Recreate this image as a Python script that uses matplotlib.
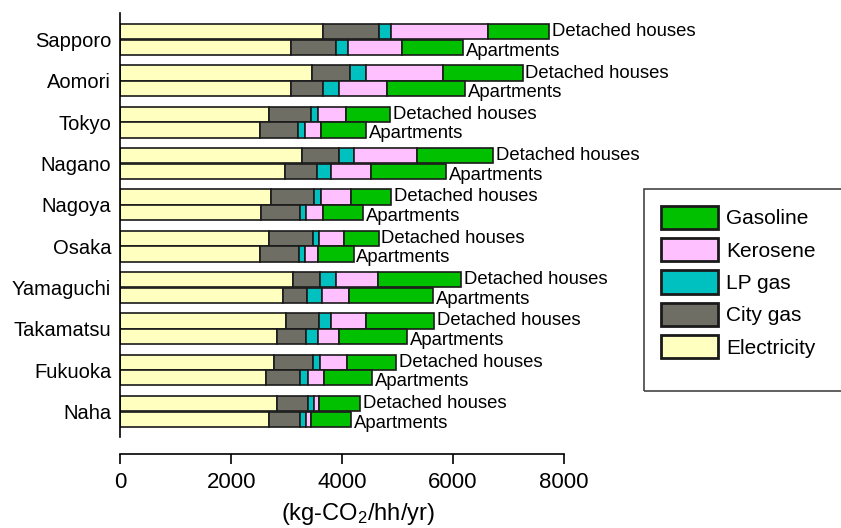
import numpy as np
import matplotlib
matplotlib.use('Agg')
import matplotlib.pyplot as plt
from matplotlib.patches import Rectangle

plt.rcParams['font.family'] = ['Liberation Sans', 'DejaVu Sans']
plt.rcParams['mathtext.fontset'] = 'custom'
plt.rcParams['mathtext.rm'] = 'Liberation Sans'
plt.rcParams['mathtext.default'] = 'regular'

# Data (kg-CO2/hh/yr) --------------------------------------------------
cities = ['Sapporo', 'Aomori', 'Tokyo', 'Nagano', 'Nagoya', 'Osaka',
          'Yamaguchi', 'Takamatsu', 'Fukuoka', 'Naha']

fuels = ['Electricity', 'City gas', 'LP gas', 'Kerosene', 'Gasoline']
colors = ['#ffffc0', '#6e6e64', '#00c0c0', '#ffc0ff', '#00c000']

electricity_det = [3650, 3450, 2680, 3280, 2710, 2680, 3110, 2990, 2770, 2820]
electricity_apt = [3080, 3080, 2520, 2970, 2530, 2520, 2930, 2820, 2620, 2680]
city_gas_det = [1010, 690, 760, 670, 790, 800, 490, 590, 700, 560]
city_gas_apt = [810, 580, 690, 580, 710, 710, 430, 530, 630, 560]
lp_gas_det = [220, 300, 130, 260, 120, 110, 290, 220, 140, 110]
lp_gas_apt = [210, 280, 120, 260, 110, 100, 280, 210, 130, 110]
kerosene_det = [1760, 1390, 510, 1150, 540, 450, 760, 630, 480, 90]
kerosene_apt = [990, 870, 300, 710, 300, 240, 490, 390, 290, 90]
gasoline_det = [1090, 1430, 790, 1360, 720, 620, 1500, 1230, 880, 740]
gasoline_apt = [1100, 1410, 800, 1360, 730, 640, 1520, 1230, 870, 730]

detached = [electricity_det, city_gas_det, lp_gas_det, kerosene_det,
            gasoline_det]
apartments = [electricity_apt, city_gas_apt, lp_gas_apt, kerosene_apt,
              gasoline_apt]

# Figure ---------------------------------------------------------------
fig = plt.figure(figsize=(8.41, 5.28), dpi=100)
ax = fig.add_axes([120.3 / 841, 1 - 437 / 528, 443.4 / 841, 424 / 528])

pos = np.arange(len(cities))
h = 0.37
off = 0.19

left_det = np.zeros(len(cities))
left_apt = np.zeros(len(cities))
handles = []
for vals_d, vals_a, fuel, col in zip(detached, apartments, fuels, colors):
    b = ax.barh(pos - off, vals_d, height=h, left=left_det, color=col,
                edgecolor='#1a1a1a', linewidth=1.2, label=fuel)
    ax.barh(pos + off, vals_a, height=h, left=left_apt, color=col,
            edgecolor='#1a1a1a', linewidth=1.2)
    left_det += np.array(vals_d)
    left_apt += np.array(vals_a)
    handles.append(b)

# Labels at bar ends
for i in range(len(cities)):
    ax.annotate('Detached houses', xy=(left_det[i], pos[i] - off),
                xytext=(2, 0), textcoords='offset points', va='center',
                ha='left', fontsize=13.3)
    ax.annotate('Apartments', xy=(left_apt[i], pos[i] + off),
                xytext=(2, -2.8), textcoords='offset points', va='center',
                ha='left', fontsize=13.3)

ax.set_xlim(0, 8000)
ax.set_ylim(len(cities) - 1 + 0.622, -0.644)
ax.set_yticks(pos)
ax.set_yticklabels(cities, fontsize=14.5)
ax.tick_params(axis='y', length=0, pad=6.5)
ax.set_xticks([0, 2000, 4000, 6000, 8000])
ax.tick_params(axis='x', labelsize=16, length=7, width=1.2, pad=6,
               direction='out')
ax.set_xlabel('(kg-CO$_2$/hh/yr)', fontsize=17)
ax.xaxis.set_label_coords(0.536, -0.150)

for s in ['top', 'right']:
    ax.spines[s].set_visible(False)
ax.spines['left'].set_linewidth(1.2)
ax.spines['bottom'].set_linewidth(1.2)
ax.spines['bottom'].set_position(('outward', 12.2))
ax.spines['bottom'].set_bounds(0, 8000)

# Legend (reverse order, gasoline at top)
leg = fig.legend(handles[::-1], fuels[::-1], loc='upper left',
                 bbox_to_anchor=(644 / 841, 1 - 189 / 528),
                 frameon=False, fontsize=15, handlelength=2.75,
                 handleheight=1.35, handletextpad=0.38, labelspacing=0.43,
                 borderpad=0.8, borderaxespad=0)
for p in leg.get_patches():
    p.set_linewidth(2)
fig.patches.append(Rectangle((644 / 841, 1 - 391 / 528), 220 / 841,
                             202 / 528, transform=fig.transFigure,
                             fill=False, edgecolor='#444444', linewidth=1.2))

plt.savefig('out.png', dpi=100)
